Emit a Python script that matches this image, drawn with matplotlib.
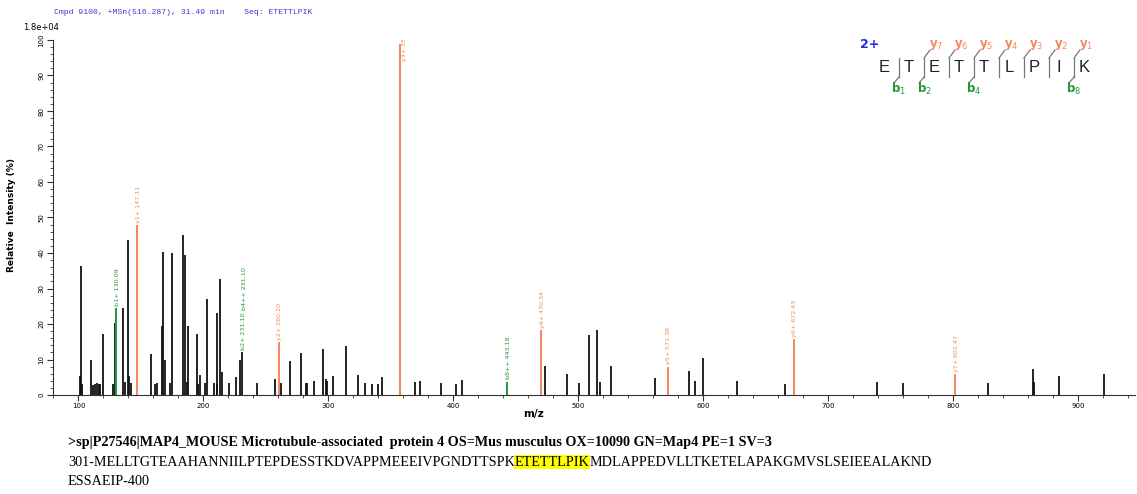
import matplotlib
matplotlib.use("Agg")
import matplotlib.pyplot as plt
from matplotlib.lines import Line2D
from matplotlib.ticker import MultipleLocator

W, H = 1137, 494

# peaks (m/z, relative intensity %)
peak_mz = [101.2, 102.0, 103.1, 110.0, 111.9, 113.0, 114.6, 116.2, 117.5, 119.9,
           127.9, 129.0, 135.9, 137.0, 139.9, 140.7, 142.0, 157.8, 161.3, 163.1,
           166.9, 167.9, 169.0, 173.2, 174.9, 183.4, 185.0, 186.6, 187.7, 194.9,
           195.7, 197.3, 201.5, 203.1, 208.5, 210.6, 211.1, 213.2, 215.1, 220.7,
           226.1, 229.3, 231.1, 242.6, 257.0, 261.8, 269.3, 278.1, 282.3, 283.1,
           288.2, 295.9, 297.9, 298.9, 303.9, 314.1, 324.0, 329.1, 334.7, 339.7,
           342.7, 369.3, 373.3, 390.4, 402.1, 407.2, 473.6, 490.7, 500.3, 508.6,
           515.2, 517.4, 526.2, 561.4, 588.3, 593.6, 599.6, 626.8, 665.2, 738.8,
           760.1, 827.9, 863.7, 864.7, 884.5, 920.7]
peak_int = [5.4, 36.2, 3.0, 9.8, 2.8, 3.0, 3.5, 3.2, 3.0, 17.1,
            3.0, 20.4, 24.4, 3.6, 43.8, 5.4, 3.5, 11.5, 3.0, 3.3,
            19.5, 40.3, 9.8, 3.4, 40.0, 45.0, 39.4, 3.7, 19.4, 17.3,
            3.0, 5.5, 3.4, 27.0, 3.3, 3.0, 23.2, 32.6, 6.6, 3.3,
            5.2, 10.0, 12.0, 3.3, 4.6, 3.3, 9.7, 11.8, 3.3, 3.3,
            3.9, 13.0, 4.6, 4.0, 5.4, 13.7, 5.6, 3.5, 3.1, 3.1,
            5.0, 3.7, 3.9, 3.5, 3.0, 4.2, 8.3, 5.9, 3.4, 16.8,
            18.4, 3.6, 8.3, 4.9, 6.8, 4.0, 10.3, 4.0, 3.1, 3.6,
            3.4, 3.4, 7.4, 3.8, 5.3, 5.8]

# matched fragment ions
ion_mz = [130.09, 147.11, 260.20, 357.25, 443.18, 470.34, 571.38, 672.43, 801.47]
ion_int = [24.6, 47.9, 14.9, 99.0, 3.8, 18.4, 8.0, 15.7, 5.8]
ion_names = ['b1+', 'y1+', 'y2+', 'y3+', 'b8++', 'y4+', 'y5+', 'y6+', 'y7+']

# two labels sitting on the black 231.10 peak
extra_labels = ['b2+ 231.10', 'b4++ 231.10']

sequence = "ETETTLPIK"
b_ions = [1, 2, 4, 8]
y_ions = [7, 6, 5, 4, 3, 2, 1]

header = "Cmpd 9100, +MSn(516.287), 31.49 min    Seq: ETETTLPIK"
fasta_title = ">sp|P27546|MAP4_MOUSE Microtubule-associated  protein 4 OS=Mus musculus OX=10090 GN=Map4 PE=1 SV=3"
seq_before = "301-MELLTGTEAAHANNIILPTEPDESSTKDVAPPMEEEIVPGNDTTSPK"
seq_hit = "ETETTLPIK"
seq_after = "MDLAPPEDVLLTKETELAPAKGMVSLSEIEEALAKND"
seq_line3 = "ESSAEIP-400"

ORANGE = '#f5875a'
GREEN = '#1e9a3c'
BLUE = '#3a3ad0'


def fx(x):
    return x / W


def fy(y):
    return 1 - y / H


fig = plt.figure(figsize=(W / 100, H / 100), dpi=100)
ax = fig.add_axes([fx(53), fy(395), fx(1135) - fx(53), fy(40) - fy(395)])

ax.vlines(peak_mz, 0, peak_int, color='#111111', lw=1.3)
for mz, inten, name in zip(ion_mz, ion_int, ion_names):
    col = GREEN if name.startswith('b') else ORANGE
    ax.vlines(mz, 0, inten, color=col, lw=1.4)
    lab = f"{name} {mz:.2f}"
    if inten > 90:
        ax.text(mz + 3.5, 94.0, lab, rotation=90, fontsize=4.6, color=col,
                ha='center', va='bottom', clip_on=True)
    else:
        ax.text(mz + 0.9, inten + 0.6, lab, rotation=90, fontsize=4.6, color=col,
                ha='center', va='bottom')

ax.text(231.1 + 0.9, 12.6, extra_labels[0], rotation=90, fontsize=4.6,
        color=GREEN, ha='center', va='bottom')
ax.text(231.1 + 1.8, 24.0, extra_labels[1], rotation=90, fontsize=4.6,
        color=GREEN, ha='center', va='bottom')

ax.set_xlim(79.6, 945.5)
ax.set_ylim(0, 100)
ax.spines['top'].set_visible(False)
ax.spines['right'].set_visible(False)
ax.spines['left'].set_color('#333333')
ax.spines['bottom'].set_color('#333333')
ax.xaxis.set_major_locator(MultipleLocator(100))
ax.xaxis.set_minor_locator(MultipleLocator(20))
ax.yaxis.set_major_locator(MultipleLocator(10))
ax.yaxis.set_minor_locator(MultipleLocator(2))
ax.tick_params(which='major', length=4, width=0.8, labelsize=5, color='#333333', pad=2)
ax.tick_params(which='minor', length=2, width=0.6, color='#333333')
ax.set_xticks(range(100, 1000, 100))
ax.set_yticks(range(0, 110, 10))
for t in ax.get_yticklabels():
    t.set_rotation(90)
    t.set_va('center')

fig.text(fx(23), fy(28), "1.8e+04", fontsize=6, ha='left', va='center')
fig.text(fx(12), fy(215), "Relative  Intensity (%)", rotation=90, fontsize=6.5,
         fontweight='bold', ha='center', va='center')
fig.text(fx(533), fy(414), "m/z", fontsize=7.5, fontweight='bold', ha='center', va='center')
fig.text(fx(54), fy(13), header, fontsize=5.9, family='Liberation Mono', color=BLUE,
         ha='left', va='center')

# peptide fragment map
fig.text(fx(870), fy(45), "2+", fontsize=9, fontweight='bold', color='#1f2fe0',
         ha='center', va='center')
for i, aa in enumerate(sequence):
    fig.text(fx(884 + 25 * i), fy(67), aa, fontsize=12, family='Liberation Sans',
             color='#222222', ha='center', va='center')
for k in range(len(sequence) - 1):
    sx = 899 + 25 * k
    pos = k + 1
    fig.add_artist(Line2D([fx(sx), fx(sx)], [fy(58), fy(77)], color='#777777', lw=0.9))
    if (len(sequence) - pos) in y_ions:
        fig.add_artist(Line2D([fx(sx), fx(sx + 6)], [fy(58), fy(50)], color='#777777', lw=0.9))
        fig.text(fx(sx + 12), fy(45), r"$\mathbf{y}_{%d}$" % (len(sequence) - pos),
                 fontsize=8.5, color=ORANGE, ha='center', va='center')
    if pos in b_ions:
        fig.add_artist(Line2D([fx(sx), fx(sx - 5)], [fy(77), fy(83)], color='#777777', lw=0.9))
        fig.text(fx(sx), fy(89), r"$\mathbf{b}_{%d}$" % pos,
                 fontsize=8.5, color=GREEN, ha='center', va='center')

# protein sequence text
FS = 10.2
fig.text(fx(68), fy(442), fasta_title, fontsize=FS, family='Liberation Serif',
         fontweight='bold', ha='left', va='center')
r = fig.canvas.get_renderer()
t1 = fig.text(fx(68), fy(462), seq_before, fontsize=FS, family='Liberation Serif',
              ha='left', va='center')
x1 = t1.get_window_extent(renderer=r).x1 / fig.bbox.width
t2 = fig.text(x1, fy(462), seq_hit, fontsize=FS, family='Liberation Serif',
              ha='left', va='center',
              bbox=dict(facecolor='#ffff00', edgecolor='none', pad=0.6))
x2 = t2.get_window_extent(renderer=r).x1 / fig.bbox.width
fig.text(x2, fy(462), seq_after, fontsize=FS, family='Liberation Serif',
         ha='left', va='center')
fig.text(fx(68), fy(481), seq_line3, fontsize=FS, family='Liberation Serif',
         ha='left', va='center')

fig.savefig("out.png", dpi=100)
